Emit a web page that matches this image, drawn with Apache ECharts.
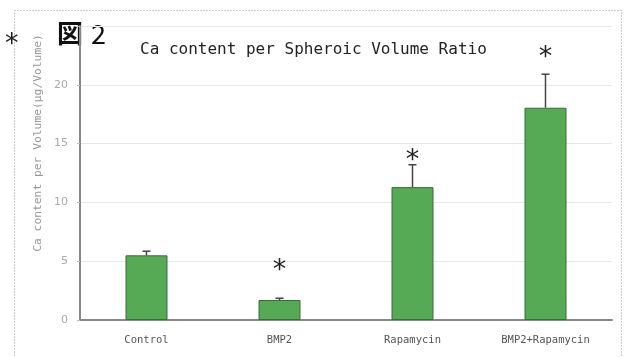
<!DOCTYPE html>
<html>
<head>
<meta charset="utf-8">
<script src="https://cdn.jsdelivr.net/npm/echarts@6/dist/echarts.min.js"></script>
<style>
  html, body { margin: 0; padding: 0; background: #fff; }
  #chart { width: 626px; height: 357px; }
</style>
</head>
<body>
<div id="chart"></div>
<script>
// values
var groups = ['Control', 'BMP2', 'Rapamycin', 'BMP2+Rapamycin'];
var means = [5.5, 1.7, 11.3, 18.05];
var errTops = [5.85, 1.85, 13.2, 20.9];
var starY = [null, 4.8, 14.1, 22.9];   // where the * marks sit (value units)
var yTicks = [0, 5, 10, 15, 20, 25];

var mono = '"DejaVu Sans Mono", monospace';
var chart = echarts.init(document.getElementById('chart'));

var errData = groups.map(function (g, i) { return [i, means[i], errTops[i]]; });
var starData = [];
starY.forEach(function (v, i) { if (v != null) starData.push([i, v]); });

var option = {
    animation: false,
    backgroundColor: '#fff',
    grid: { left: 80, right: 14, top: 26, bottom: 37 },
    graphic: [
        {
            type: 'rect',
            shape: { x: 14.5, y: 10.5, width: 607, height: 350 },
            style: { fill: 'none', stroke: '#999', lineWidth: 1, lineDash: [1, 2] },
            silent: true
        },
        {
            type: 'text', left: 57, top: 20,
            style: { text: '図', font: 'bold 26px "Noto Sans CJK JP"', fill: '#111' }
        },
        {
            type: 'text', left: 91, top: 20,
            style: { text: '2', font: '27px "Noto Sans CJK JP"', fill: '#111' }
        },
        {
            type: 'text', left: 5, top: 31,
            style: { text: '*', font: '27px "DejaVu Sans"', fill: '#222' }
        },
        {
            type: 'text', left: 140, top: 42,
            style: { text: 'Ca content per Spheroic Volume Ratio', font: '16px ' + mono, fill: '#222' }
        },
        {
            type: 'text', x: 38, y: 143, rotation: Math.PI / 2,
            style: {
                text: 'Ca content per Volume(μg/Volume)', font: '11.3px ' + mono, fill: '#999',
                textAlign: 'center', textVerticalAlign: 'middle'
            }
        }
    ],
    xAxis: {
        type: 'category',
        data: groups,
        axisLine: { lineStyle: { color: '#888', width: 2 } },
        axisTick: { show: false },
        axisLabel: { fontFamily: mono, fontSize: 10.5, color: '#555', margin: 15 }
    },
    yAxis: {
        type: 'value',
        min: yTicks[0],
        max: yTicks[yTicks.length - 1],
        interval: 5,
        axisLine: { show: true, lineStyle: { color: '#888', width: 2 } },
        axisTick: { show: true, length: 3, lineStyle: { color: '#bbb' } },
        axisLabel: {
            color: '#aaa', fontSize: 11, fontFamily: '"DejaVu Sans"', margin: 12,
            formatter: function (v) { return v === 25 ? '' : v; }
        },
        splitLine: { lineStyle: { color: '#e8e8e8', width: 1 } }
    },
    series: [
        {
            type: 'bar',
            data: means,
            barWidth: 42,
            itemStyle: { color: '#56a955', borderColor: '#3c6b3c', borderWidth: 1 },
            z: 2
        },
        {
            type: 'custom',
            data: errData,
            z: 3,
            renderItem: function (params, api) {
                var base = api.coord([api.value(0), api.value(1)]);
                var top = api.coord([api.value(0), api.value(2)]);
                var s = { stroke: '#444', lineWidth: 1.5 };
                return {
                    type: 'group',
                    children: [
                        { type: 'line', shape: { x1: base[0], y1: base[1], x2: top[0], y2: top[1] }, style: s },
                        { type: 'line', shape: { x1: top[0] - 4, y1: top[1], x2: top[0] + 4, y2: top[1] }, style: s }
                    ]
                };
            }
        },
        {
            type: 'custom',
            data: starData,
            z: 4,
            renderItem: function (params, api) {
                var p = api.coord([api.value(0), api.value(1)]);
                return {
                    type: 'text',
                    style: {
                        x: p[0], y: p[1] + 7, text: '*',
                        font: '27px "DejaVu Sans"', fill: '#222',
                        textAlign: 'center', textVerticalAlign: 'middle'
                    }
                };
            }
        }
    ]
};

chart.setOption(option);
</script>
</body>
</html>
